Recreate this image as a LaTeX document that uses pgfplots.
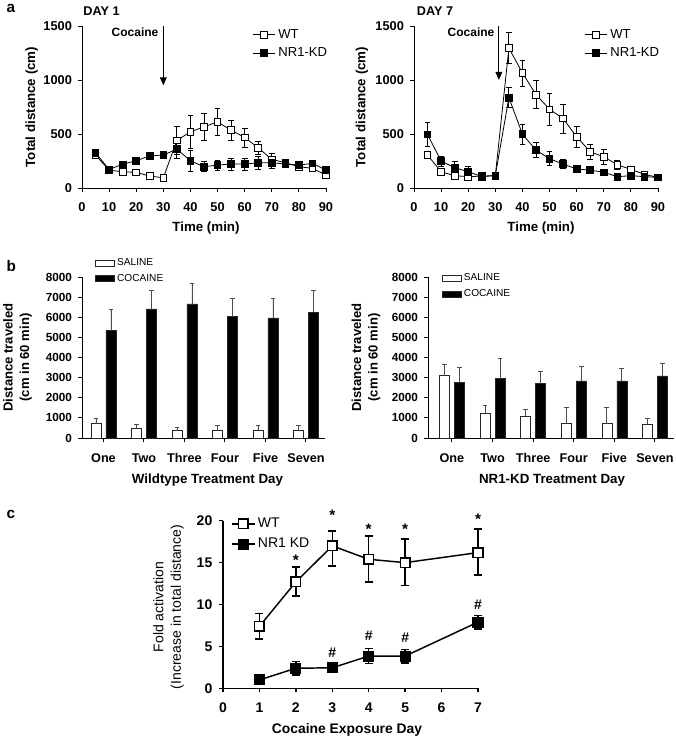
\documentclass[border=0pt]{standalone}
\usepackage{pgfplots}
\pgfplotsset{compat=1.18}
\usepackage{fontspec}
\setmainfont{Liberation Sans}
\usetikzlibrary{arrows.meta}

% day 1 time course
\pgfplotstableread{
x y e
5 305 30
10 165 20
15 150 15
20 145 15
25 110 15
30 95 15
35 440 130
40 520 150
45 566 125
50 612 123
55 535 90
60 468 88
65 372 60
70 265 55
75 234 30
80 197 25
85 182 20
90 120 20
}\wtone
\pgfplotstableread{
x y e
5 326 30
10 172 25
15 220 25
20 252 25
25 298 25
30 305 20
35 360 90
40 252 95
45 197 45
50 212 45
55 222 55
60 222 55
65 234 60
70 234 50
75 222 30
80 212 25
85 228 20
90 166 15
}\kdone
% day 7 time course
\pgfplotstableread{
x y e
5 305 30
10 150 15
15 114 10
20 105 10
25 110 10
30 115 10
35 1295 143
40 1065 120
45 865 130
50 729 150
55 643 135
60 474 95
65 335 70
70 289 70
75 215 45
80 172 25
85 126 15
90 98 10
}\wtseven
\pgfplotstableread{
x y e
5 495 108
10 249 45
15 188 55
20 151 50
25 105 20
30 115 15
35 837 95
40 498 92
45 351 72
50 271 65
55 222 40
60 175 25
65 166 20
70 145 15
75 105 10
80 114 10
85 105 10
90 98 10
}\kdseven
% distance in 60 min, by day
\pgfplotstableread{
x y e
1 717 233
2 500 200
3 367 166
4 367 266
5 383 250
6 383 250
}\wtsal
\pgfplotstableread{
x y e
1 5333 1050
2 6417 916
3 6667 1000
4 6033 917
5 5967 983
6 6250 1083
}\wtcoc
\pgfplotstableread{
x y e
1 3100 550
2 1250 367
3 1083 334
4 717 783
5 717 783
6 683 267
}\kdsal
\pgfplotstableread{
x y e
1 2750 750
2 2950 1000
3 2700 633
4 2833 717
5 2833 617
6 3083 617
}\kdcoc
% fold activation
\pgfplotstableread{
x y ep em
1 7.4 1.5 1.5
2 12.7 1.8 1.7
3 17.0 1.8 2.4
4 15.4 2.8 2.7
5 15.0 2.8 2.7
7 16.2 2.8 2.7
}\wtfold
\pgfplotstableread{
x y ep em
1 1.0 0.2 0.2
2 2.4 0.8 0.8
3 2.45 0.5 0.5
4 3.85 0.9 0.9
5 3.85 0.8 0.8
7 7.9 0.8 0.8
}\kdfold

\pgfplotsset{
  base/.style={scale only axis, axis lines=left, axis line style={-, line width=0.7pt},
    tick align=outside, major tick length=3pt, tick style={black, line width=0.7pt},
    /pgf/number format/assume math mode=true, /pgf/number format/1000 sep={},
    clip=false},
  tc/.style={base, width=183pt, height=121.5pt, xmin=0, xmax=90, ymin=0, ymax=1500,
    xtick={0,10,...,90}, ytick={0,500,1000,1500},
    tick label style={font=\fontsize{9.6}{11}\selectfont\bfseries},
    xticklabel style={yshift=-4.5pt}, yticklabel style={xshift=-1pt},
    legend style={draw=none, fill=none, at={(0.68,1.015)}, anchor=north west,
      font=\fontsize{9.8}{11}\selectfont, row sep=1.5pt},
    legend cell align=left},
  sq/.style={black, line width=0.6pt, mark=square*, mark size=2.5pt,
    error bars/y dir=both, error bars/y explicit,
    error bars/error bar style={line width=0.6pt},
    error bars/error mark options={rotate=90, line width=0.6pt, mark size=2.2pt}},
  bp/.style={base, width=182.25pt, height=120.75pt, ymin=0, ymax=8000,
    ytick={0,1000,...,8000}, xtick={1,...,6}, xticklabels={One,Two,Three,Four,Five,Seven},
    ybar=3.75pt, bar width=7.5pt,
    y tick label style={font=\fontsize{8.8}{10}\selectfont\bfseries, xshift=-1pt},
    x tick label style={font=\fontsize{9.5}{11}\selectfont\bfseries, yshift=-5pt},
    legend style={draw=none, fill=none, font=\fontsize{7.6}{8}\selectfont, anchor=north west, row sep=1pt},
    legend cell align=left,
    legend image code/.code={\draw[##1] (0pt,-2.25pt) rectangle (14pt,2.25pt);}},
  bar/.style={draw=black!85, line width=0.4pt,
    error bars/y dir=plus, error bars/y explicit,
    error bars/error bar style={black!70, line width=0.6pt},
    error bars/error mark options={rotate=90, black!70, line width=0.6pt, mark size=1.8pt}}
}
\tikzset{
  ast/.style={anchor=base, font=\fontsize{11.5}{12}\selectfont\bfseries, inner sep=0pt},
  hsh/.style={anchor=base, font=\fontsize{10.5}{12}\selectfont\bfseries, inner sep=0pt}
}

\begin{document}
\begin{tikzpicture}[x=0.75pt, y=0.75pt]
\useasboundingbox (0,0) rectangle (675,739);

% a: day 1
\begin{axis}[tc, at={(61.5pt,413.25pt)}, anchor=south west]
  \addplot[sq, mark options={fill=white, solid}] table[x=x, y=y, y error=e] {\wtone};
  \addplot[sq, mark options={fill=black, solid}] table[x=x, y=y, y error=e] {\kdone};
  \legend{WT, NR1-KD}
  \draw[line width=0.8pt, -{Triangle[length=6pt, width=5pt]}] (axis cs:30,1500) -- (axis cs:30,950);
\end{axis}
% a: day 7
\begin{axis}[tc, at={(310.5pt,413.25pt)}, anchor=south west]
  \addplot[sq, mark options={fill=white, solid}] table[x=x, y=y, y error=e] {\wtseven};
  \addplot[sq, mark options={fill=black, solid}] table[x=x, y=y, y error=e] {\kdseven};
  \legend{WT, NR1-KD}
  \draw[line width=0.8pt, -{Triangle[length=6pt, width=5pt]}] (axis cs:31.3,1500) -- (axis cs:31.3,1000);
\end{axis}

% b: wildtype
\begin{axis}[bp, at={(61.5pt,225.75pt)}, anchor=south west, xmin=0.47, xmax=6.47,
  legend style={at={(0.037,1.15)}}]
  \addplot[bar, fill=white] table[x=x, y=y, y error=e] {\wtsal};
  \addplot[bar, fill=black] table[x=x, y=y, y error=e] {\wtcoc};
  \legend{SALINE, COCAINE}
\end{axis}
% b: NR1-KD
\begin{axis}[bp, at={(321pt,225.75pt)}, anchor=south west, width=184.5pt, xmin=0.41, xmax=6.47,
  legend style={at={(0.04,1.055)}}]
  \addplot[bar, fill=white] table[x=x, y=y, y error=e] {\kdsal};
  \addplot[bar, fill=black] table[x=x, y=y, y error=e] {\kdcoc};
  \legend{SALINE, COCAINE}
\end{axis}

% c: fold activation
\begin{axis}[base, at={(167.25pt,38pt)}, anchor=south west, width=191.25pt, height=125.7pt,
  xmin=0, xmax=7, ymin=0, ymax=20, xtick={0,...,7}, ytick={0,5,...,20},
  axis line style={-, line width=1pt}, tick style={line width=1pt},
  tick label style={font=\fontsize{10.5}{12}\selectfont\bfseries},
  xticklabel style={yshift=-4pt}, yticklabel style={xshift=-1.5pt},
  legend style={draw=none, fill=none, at={(0.015,1.05)}, anchor=north west,
    font=\fontsize{10.5}{12}\selectfont, row sep=2.5pt},
  legend cell align=left]
  \addplot[black, line width=1.1pt, mark=square*, mark size=3.6pt, mark options={fill=white, solid},
    error bars/y dir=both, error bars/y explicit, error bars/error bar style={line width=1.1pt},
    error bars/error mark options={rotate=90, line width=1.1pt, mark size=3pt}]
    table[x=x, y=y, y error plus=ep, y error minus=em] {\wtfold};
  \addplot[black, line width=1.1pt, mark=square*, mark size=3.6pt, mark options={fill=black, solid},
    error bars/y dir=both, error bars/y explicit, error bars/error bar style={line width=1.1pt},
    error bars/error mark options={rotate=90, line width=1.1pt, mark size=3pt}]
    table[x=x, y=y, y error plus=ep, y error minus=em] {\kdfold};
  \legend{WT, NR1 KD}
  \node[ast] at (axis cs:2,14.7) {*};
  \node[ast] at (axis cs:3,20.0) {*};
  \node[ast] at (axis cs:4,18.3) {*};
  \node[ast] at (axis cs:5,18.3) {*};
  \node[ast] at (axis cs:7,19.5) {*};
  \node[hsh] at (axis cs:3,3.7) {\#};
  \node[hsh] at (axis cs:4,5.65) {\#};
  \node[hsh] at (axis cs:5,5.45) {\#};
  \node[hsh] at (axis cs:7,9.4) {\#};
\end{axis}

% panel letters and labels
\node[anchor=west, font=\fontsize{11.5}{12}\selectfont\bfseries] at (2,731) {a};
\node[anchor=west, font=\fontsize{11.5}{12}\selectfont\bfseries] at (2,473) {b};
\node[anchor=west, font=\fontsize{11.5}{12}\selectfont\bfseries] at (2,225) {c};
\node[font=\fontsize{9.5}{11}\selectfont\bfseries] at (101.5,728) {DAY 1};
\node[font=\fontsize{9.5}{11}\selectfont\bfseries] at (435,728) {DAY 7};
\node[font=\fontsize{9}{10}\selectfont\bfseries] at (135,706.5) {Cocaine};
\node[font=\fontsize{9}{10}\selectfont\bfseries] at (471,706.5) {Cocaine};
\node[rotate=90, font=\fontsize{10}{12}\selectfont\bfseries] at (31.7,632) {Total distance (cm)};
\node[rotate=90, font=\fontsize{10}{12}\selectfont\bfseries] at (362,632) {Total distance (cm)};
\node[font=\fontsize{10}{12}\selectfont\bfseries] at (206,511) {Time (min)};
\node[font=\fontsize{10}{12}\selectfont\bfseries] at (541,511) {Time (min)};
\node[rotate=90, align=center, font=\fontsize{9.8}{12.5}\selectfont\bfseries] at (17.5,381.5) {Distance traveled\\(cm in 60 min)};
\node[rotate=90, align=center, font=\fontsize{9.8}{12.5}\selectfont\bfseries] at (366,381.5) {Distance traveled\\(cm in 60 min)};
\node[font=\fontsize{10}{12}\selectfont\bfseries] at (207.5,259) {Wildtype Treatment Day};
\node[font=\fontsize{10}{12}\selectfont\bfseries] at (552,259) {NR1-KD Treatment Day};
\node[rotate=90, align=center, font=\fontsize{10.5}{13}\selectfont] at (168.5,132) {Fold activation\\(Increase in total distance)};
\node[font=\fontsize{10.4}{12}\selectfont\bfseries] at (347,9) {Cocaine Exposure Day};
\end{tikzpicture}
\end{document}
